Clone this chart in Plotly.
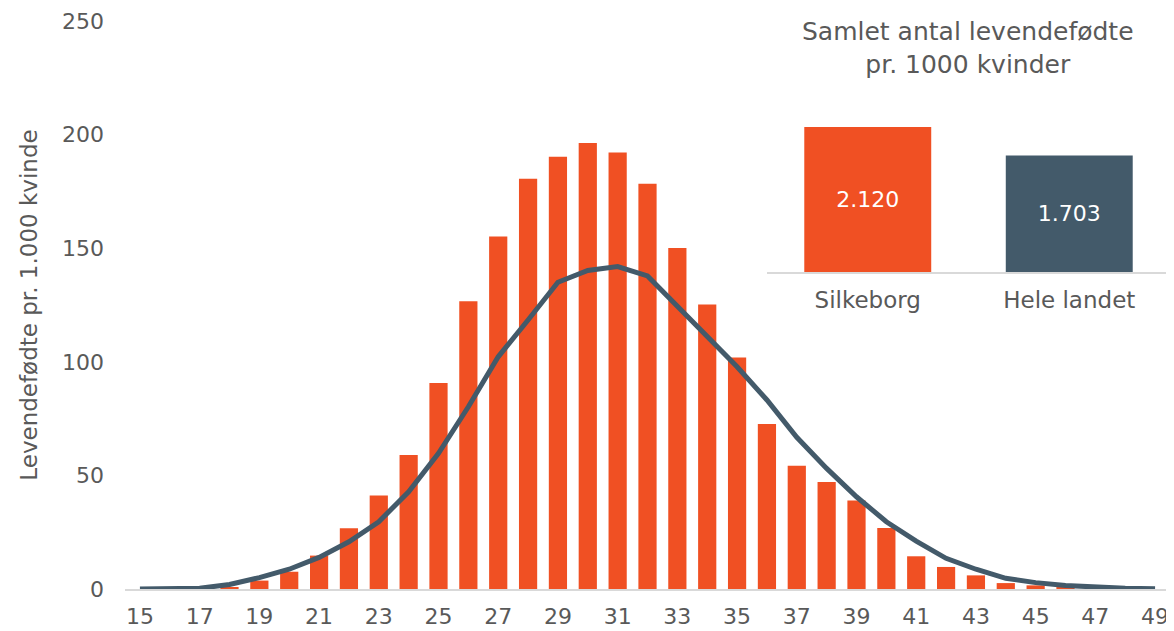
import plotly.graph_objects as go

# alder og levendefødte pr. 1.000 kvinder
ages = list(range(15, 50))
silkeborg = [0, 0, 0, 0.7, 3.7, 7.6, 14.7, 26.7, 41.2, 59.0, 90.7, 126.6, 155.1, 180.6,
             190.3, 196.3, 192.1, 178.4, 150.1, 125.2, 101.9, 72.6, 54.3, 47.1, 38.9,
             26.8, 14.4, 9.7, 6.0, 2.6, 1.6, 0.7, 0.3, 0.1, 0]
hele_landet = [0, 0.1, 0.3, 2.0, 5.0, 8.7, 13.9, 20.8, 29.6, 42.8, 59.7, 80.2, 102.2, 118.4,
               135.0, 140.2, 141.9, 137.8, 124.3, 111.1, 97.8, 83.2, 66.8, 53.1, 40.6,
               29.6, 21.1, 13.5, 8.7, 4.7, 2.8, 1.5, 0.7, 0.3, 0.1]

# samlet fertilitet
total_names = ["Silkeborg", "Hele landet"]
total_values = [2120, 1703]
total_labels = ["2.120", "1.703"]

orange = "#F05023"
slate = "#435A6A"
grey_txt = "#595959"
font = "DejaVu Sans"

# siden lægger 8px kant rundt om figuren, så figuren gøres 8px mindre
L, R, T, B = 117, 4, 13, 42
W, H = 1166, 623
pw, ph = W - L - R, H - T - B

fig = go.Figure()

fig.add_trace(go.Bar(
  x=ages, y=silkeborg,
  marker={"color": orange, "line": {"width": 0}},
  width=0.61,
  name="Silkeborg",
  xaxis="x", yaxis="y",
))
fig.add_trace(go.Scatter(
  x=ages, y=hele_landet,
  mode="lines",
  line={"color": slate, "width": 5},
  cliponaxis=False,
  name="Hele landet",
  xaxis="x", yaxis="y",
))

# indsat diagram
fig.add_trace(go.Bar(
  x=total_names, y=total_values,
  text=total_labels,
  textposition="inside",
  insidetextanchor="middle",
  textfont={"color": "white", "size": 22, "family": font},
  marker={"color": [orange, slate], "line": {"width": 0}},
  width=0.63,
  xaxis="x2", yaxis="y2",
))

fig.update_layout({
  "width": W, "height": H,
  "margin": {"l": L, "r": R, "t": T, "b": B, "autoexpand": False},
  "plot_bgcolor": "white", "paper_bgcolor": "white",
  "showlegend": False,
  "font": {"family": font, "color": grey_txt, "size": 22},
  "xaxis": {
    "range": [14.5, 49.5],
    "tickvals": list(range(15, 50, 2)),
    "showgrid": False, "zeroline": False,
    "showline": True, "linecolor": "#D9D9D9", "linewidth": 2,
    "tickfont": {"size": 22},
    "ticklabelstandoff": 7,
    "automargin": False,
  },
  "yaxis": {
    "range": [0, 250],
    "tickvals": [0, 50, 100, 150, 200, 250],
    "showgrid": False, "zeroline": False,
    "tickfont": {"size": 22},
    "ticklabelstandoff": 20,
    "automargin": False,
    "title": {"text": "Levendefødte pr. 1.000 kvinde", "font": {"size": 23}, "standoff": 17},
  },
  "xaxis2": {
    "domain": [(759 - L) / pw, 1.0], "anchor": "y2",
    "showgrid": False, "zeroline": False,
    "showline": True, "linecolor": "#D9D9D9", "linewidth": 2,
    "tickfont": {"size": 23},
    "ticklabelstandoff": 6,
    "automargin": False,
  },
  "yaxis2": {
    "domain": [(581 - 264) / ph, (581 - 119) / ph], "anchor": "x2",
    "range": [0, 2120],
    "visible": False,
  },
  "annotations": [{
    "text": "Samlet antal levendefødte<br>pr. 1000 kvinder",
    "x": (960 - L) / pw, "xref": "paper", "xanchor": "center",
    "y": (581 - 40) / ph, "yref": "paper", "yanchor": "middle",
    "showarrow": False,
    "font": {"size": 25, "color": grey_txt},
  }],
})

fig.write_html("out.html")
